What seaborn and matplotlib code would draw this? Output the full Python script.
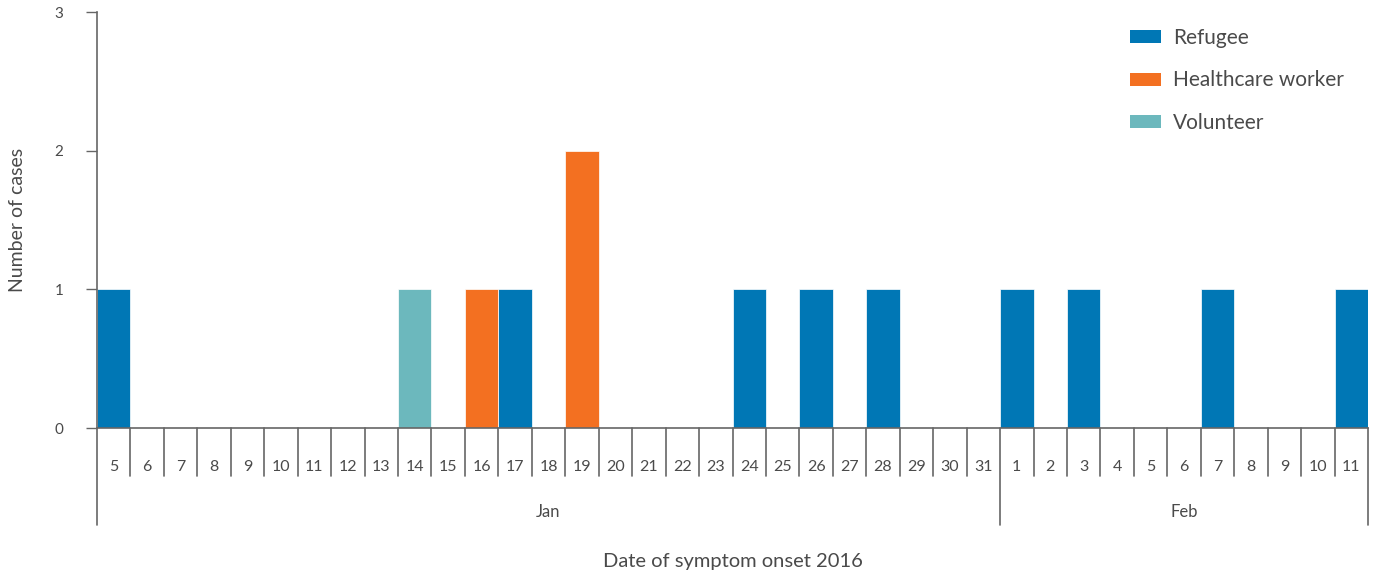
import seaborn as sns
import matplotlib.pyplot as plt
import matplotlib.transforms as mtransforms
from matplotlib.patches import Patch
import pandas as pd

# days on the axis (Jan 5 .. Feb 11, 2016)
months = ["Jan"] * 27 + ["Feb"] * 11
days = list(range(5, 32)) + list(range(1, 12))

# cases per day for each group
refugee = [1, 0, 0, 0, 0, 0, 0, 0, 0, 0, 0, 0, 1, 0, 0, 0, 0, 0, 0, 1, 0, 1, 0, 1, 0, 0, 0,
           1, 0, 1, 0, 0, 0, 1, 0, 0, 0, 1]
healthcare = [0, 0, 0, 0, 0, 0, 0, 0, 0, 0, 0, 1, 0, 0, 2, 0, 0, 0, 0, 0, 0, 0, 0, 0, 0, 0, 0,
              0, 0, 0, 0, 0, 0, 0, 0, 0, 0, 0]
volunteer = [0, 0, 0, 0, 0, 0, 0, 0, 0, 1, 0, 0, 0, 0, 0, 0, 0, 0, 0, 0, 0, 0, 0, 0, 0, 0, 0,
             0, 0, 0, 0, 0, 0, 0, 0, 0, 0, 0]

groups = ["Refugee", "Healthcare worker", "Volunteer"]
colors = ["#0077B5", "#F37021", "#6CB8BD"]
grey = "#4a4a4a"
line = "#666666"

keys = [f"{m} {d}" for m, d in zip(months, days)]
rows = []
for g, vals in zip(groups, [refugee, healthcare, volunteer]):
    for k, v in zip(keys, vals):
        rows.append({"day": k, "cases": v, "group": g})
df = pd.DataFrame(rows)

sns.set_style("white")
plt.rcParams['font.family'] = ['Lato', 'DejaVu Sans']

fig = plt.figure(figsize=(13.75, 5.74), dpi=100)
ax = fig.add_axes([97 / 1375, 1 - 428 / 574, 1271 / 1375, 416 / 574])

sns.barplot(data=df, x="day", y="cases", hue="group", order=keys, hue_order=groups,
            palette=colors, saturation=1, dodge=False, width=1, edgecolor="white",
            linewidth=0.5, legend=False, ax=ax)

ax.set_ylim(0, 3)
ax.set_xlim(-0.5, len(keys) - 0.5)
ax.set_yticks([0, 1, 2, 3])
ax.set_yticklabels(["0", "1", "2", "3"])
ax.tick_params(axis="y", direction="out", length=8, width=1, color=line,
               labelsize=11, labelcolor=grey, pad=16, left=True)
ax.set_xticks(range(len(keys)))
ax.set_xticklabels([str(d) for d in days])
ax.tick_params(axis="x", length=0, labelsize=11.5, labelcolor=grey, pad=23)

for s in ["top", "right"]:
    ax.spines[s].set_visible(False)
for s in ["left", "bottom"]:
    ax.spines[s].set_color(line)
    ax.spines[s].set_linewidth(1.2)

# day separators and month separators below the axis
trans = mtransforms.blended_transform_factory(ax.transData, ax.transAxes)
short = -(476 - 428) / 416
long = -(525 - 428) / 416
month_edges = [-0.5, 26.5, 37.5]
for i in range(len(keys) + 1):
    x = i - 0.5
    y1 = long if x in month_edges else short
    ax.plot([x, x], [0, y1], color=line, lw=1.2, transform=trans, clip_on=False)

ax.text(13, -(512 - 428) / 416, "Jan", transform=trans, ha="center", va="center",
        fontsize=12, color=grey)
ax.text(32, -(512 - 428) / 416, "Feb", transform=trans, ha="center", va="center",
        fontsize=12, color=grey)

ax.set_xlabel("Date of symptom onset 2016", fontsize=14.5, color=grey)
ax.xaxis.set_label_coords(0.5, -(561 - 428) / 416)
ax.xaxis.label.set_verticalalignment("center")
ax.set_ylabel("Number of cases", fontsize=14, color=grey)
ax.yaxis.set_label_coords(-(97 - 18) / 1271, 0.5)
ax.yaxis.label.set_verticalalignment("center")

handles = [Patch(facecolor=c, edgecolor="none") for c in colors]
fig.legend(handles, groups, loc="upper left", bbox_to_anchor=(1130 / 1375, 1 - 28 / 574),
           frameon=False, fontsize=15, labelcolor=grey, handlelength=1.5, handleheight=0.6,
           handletextpad=0.55, labelspacing=1.08, borderpad=0, borderaxespad=0)

fig.savefig("out.png", dpi=100)
